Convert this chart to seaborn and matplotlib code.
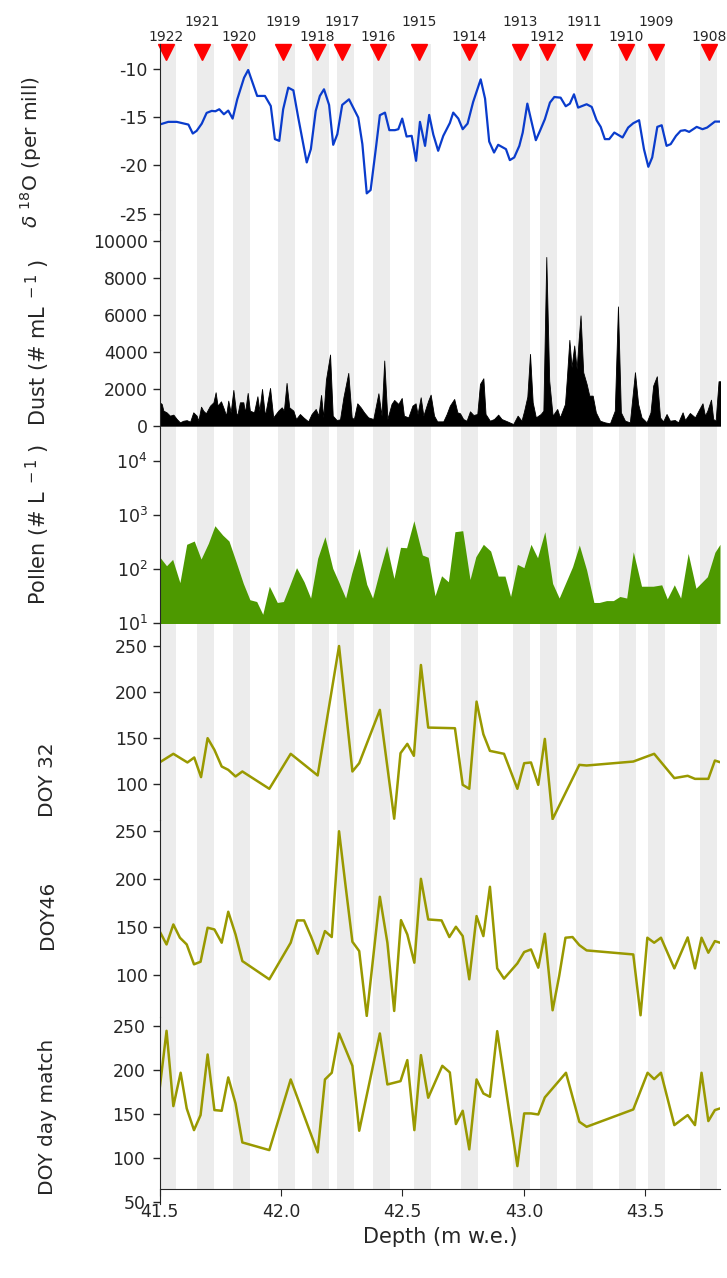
import numpy as np
import matplotlib
matplotlib.use("Agg")
import matplotlib.pyplot as plt
from matplotlib.ticker import NullLocator
import seaborn as sns

# ---- data (depth in m w.e.) ----
years = [1922, 1921, 1920, 1919, 1918, 1917, 1916, 1915, 1914, 1913, 1912, 1911, 1910, 1909, 1908]
year_depth = [41.527, 41.675, 41.827, 42.008, 42.148, 42.251, 42.399, 42.568, 42.774,
              42.984, 43.095, 43.248, 43.420, 43.543, 43.761]
band_start = [41.499, 41.654, 41.802, 41.988, 42.128, 42.230, 42.379, 42.547, 42.741,
              42.955, 43.066, 43.214, 43.391, 43.510, 43.724]
band_width = 0.07

d18o_depth = [41.500, 41.536, 41.571, 41.619, 41.637, 41.653, 41.674, 41.694, 41.715, 41.730,
              41.746, 41.765, 41.783, 41.801, 41.820, 41.848, 41.865, 41.902, 41.934, 41.958,
              41.975, 41.993, 42.009, 42.030, 42.051, 42.071, 42.106, 42.123, 42.143, 42.160,
              42.177, 42.198, 42.215, 42.232, 42.252, 42.280, 42.318, 42.335, 42.353, 42.369,
              42.391, 42.407, 42.428, 42.446, 42.469, 42.483, 42.499, 42.517, 42.538, 42.556,
              42.572, 42.593, 42.610, 42.627, 42.647, 42.668, 42.695, 42.709, 42.730, 42.748,
              42.768, 42.791, 42.822, 42.840, 42.857, 42.877, 42.894, 42.926, 42.942, 42.960,
              42.981, 42.995, 43.014, 43.032, 43.049, 43.066, 43.086, 43.107, 43.125, 43.151,
              43.172, 43.189, 43.206, 43.223, 43.258, 43.279, 43.299, 43.316, 43.333, 43.351,
              43.372, 43.406, 43.429, 43.450, 43.474, 43.494, 43.512, 43.528, 43.549, 43.567,
              43.587, 43.604, 43.626, 43.645, 43.663, 43.680, 43.711, 43.735, 43.754, 43.786,
              43.807]
d18o = [-15.76, -15.48, -15.48, -15.76, -16.69, -16.41, -15.66, -14.55, -14.34, -14.38,
        -14.17, -14.69, -14.31, -15.14, -13.14, -10.90, -10.10, -12.79, -12.79, -13.83,
        -17.27, -17.45, -14.17, -11.93, -12.21, -15.03, -19.69, -18.31, -14.34, -12.79,
        -12.10, -13.72, -17.86, -16.76, -13.72, -13.14, -15.03, -17.79, -22.90, -22.55,
        -18.14, -14.79, -14.52, -16.34, -16.34, -16.24, -15.14, -17.00, -16.93, -19.52,
        -15.48, -17.97, -14.76, -16.80, -18.48, -16.93, -15.60, -14.52, -15.14, -16.24,
        -15.66, -13.41, -11.07, -13.07, -17.52, -18.66, -17.86, -18.31, -19.45, -19.17,
        -17.97, -16.59, -13.59, -15.55, -17.38, -16.41, -15.21, -13.48, -12.90, -12.97,
        -13.86, -13.59, -12.62, -14.00, -13.65, -13.93, -15.31, -16.00, -17.27, -17.27,
        -16.59, -17.10, -16.07, -15.62, -15.31, -18.31, -20.14, -19.17, -16.00, -15.83,
        -17.97, -17.79, -16.93, -16.41, -16.34, -16.52, -16.00, -16.24, -16.07, -15.45,
        -15.45]

dust_depth = [41.500, 41.509, 41.516, 41.529, 41.543, 41.557, 41.571, 41.584, 41.598, 41.612,
              41.626, 41.639, 41.653, 41.660, 41.671, 41.680, 41.691, 41.708, 41.722, 41.731,
              41.739, 41.753, 41.765, 41.774, 41.783, 41.793, 41.804, 41.815, 41.820, 41.831,
              41.845, 41.852, 41.863, 41.872, 41.889, 41.903, 41.911, 41.922, 41.934, 41.955,
              41.968, 41.989, 42.003, 42.012, 42.023, 42.034, 42.051, 42.062, 42.078, 42.092,
              42.112, 42.126, 42.143, 42.154, 42.165, 42.174, 42.185, 42.202, 42.213, 42.229,
              42.243, 42.257, 42.277, 42.291, 42.300, 42.314, 42.328, 42.342, 42.359, 42.380,
              42.401, 42.414, 42.425, 42.438, 42.455, 42.466, 42.483, 42.497, 42.506, 42.524,
              42.541, 42.554, 42.562, 42.575, 42.586, 42.606, 42.616, 42.630, 42.643, 42.668,
              42.682, 42.695, 42.713, 42.726, 42.737, 42.750, 42.764, 42.778, 42.792, 42.808,
              42.819, 42.833, 42.842, 42.860, 42.877, 42.894, 42.908, 42.931, 42.956, 42.974,
              42.990, 43.001, 43.014, 43.025, 43.036, 43.049, 43.069, 43.080, 43.092, 43.104,
              43.118, 43.137, 43.148, 43.169, 43.176, 43.187, 43.196, 43.207, 43.217, 43.225,
              43.233, 43.244, 43.258, 43.269, 43.283, 43.296, 43.313, 43.333, 43.354, 43.374,
              43.387, 43.399, 43.416, 43.436, 43.457, 43.470, 43.484, 43.505, 43.521, 43.532,
              43.547, 43.560, 43.573, 43.587, 43.601, 43.621, 43.635, 43.653, 43.663, 43.683,
              43.704, 43.722, 43.735, 43.745, 43.755, 43.770, 43.779, 43.789, 43.801, 43.811]
dust = [1267, 1180, 815, 724, 543, 600, 362, 181, 270, 300,
        217, 724, 540, 270, 1030, 815, 670, 1086, 1267, 1810,
        1086, 1321, 905, 543, 1357, 724, 1937, 724, 543, 1267,
        1267, 724, 1774, 815, 724, 1593, 815, 1991, 543, 2045,
        452, 815, 995, 815, 2317, 995, 815, 362, 633, 452,
        235, 633, 905, 543, 1665, 452, 2480, 3855, 543, 308,
        344, 1539, 2860, 452, 362, 1213, 995, 724, 452, 362,
        1756, 543, 3530, 362, 1177, 1394, 1177, 1502, 543, 452,
        1086, 1213, 633, 1539, 543, 1357, 1683, 543, 235, 235,
        633, 1086, 1448, 724, 670, 362, 270, 778, 579, 633,
        2262, 2570, 633, 270, 362, 600, 362, 235, 90, 543,
        270, 815, 1575, 3890, 1267, 452, 633, 815, 9140, 2443,
        543, 905, 452, 1177, 2443, 4650, 3167, 4344, 3077, 4615,
        5973, 2896, 2262, 1629, 1629, 724, 270, 181, 127, 815,
        6460, 724, 270, 181, 2896, 1177, 452, 181, 724, 2172,
        2679, 452, 235, 633, 270, 308, 181, 724, 308, 688,
        452, 905, 1213, 543, 815, 1412, 362, 270, 2407, 2407]

pollen_depth = [41.500, 41.529, 41.554, 41.584, 41.612, 41.643, 41.671, 41.701, 41.728, 41.760,
                41.786, 41.815, 41.845, 41.872, 41.900, 41.925, 41.952, 41.985, 42.010, 42.037,
                42.064, 42.095, 42.122, 42.151, 42.181, 42.213, 42.239, 42.266, 42.291, 42.321,
                42.353, 42.377, 42.407, 42.435, 42.465, 42.492, 42.517, 42.547, 42.582, 42.606,
                42.634, 42.661, 42.689, 42.716, 42.748, 42.778, 42.802, 42.833, 42.863, 42.894,
                42.922, 42.945, 42.973, 43.000, 43.029, 43.056, 43.086, 43.118, 43.145, 43.200,
                43.228, 43.258, 43.288, 43.310, 43.340, 43.368, 43.395, 43.423, 43.450, 43.484,
                43.532, 43.567, 43.590, 43.619, 43.645, 43.676, 43.708, 43.755, 43.786, 43.807]
pollen = [169, 115, 151, 56, 287, 330, 153, 299, 634, 426,
          330, 137, 54, 27, 25, 14.5, 48, 24, 25, 51,
          106, 58, 29, 158, 397, 103, 56, 29, 83, 242,
          52, 29, 96, 270, 67, 252, 248, 785, 182, 165,
          32, 75, 58, 491, 513, 64, 169, 287, 215, 74,
          74, 31, 122, 106, 287, 162, 491, 54, 29, 110,
          278, 96, 24, 24, 26, 26, 31, 29, 209, 48,
          48, 51, 28, 51, 29, 195, 44, 72, 204, 287]

doy32_depth = [41.500, 41.557, 41.615, 41.643, 41.671, 41.698, 41.726, 41.756, 41.783, 41.813,
               41.841, 41.952, 42.040, 42.151, 42.239, 42.294, 42.322, 42.407, 42.466, 42.492,
               42.520, 42.547, 42.576, 42.606, 42.716, 42.748, 42.775, 42.805, 42.833, 42.860,
               42.918, 42.973, 43.001, 43.029, 43.059, 43.086, 43.118, 43.228, 43.258, 43.450,
               43.536, 43.619, 43.674, 43.704, 43.759, 43.786, 43.807]
doy32 = [123.5, 132.9, 123.5, 128.9, 107.6, 149.9, 137.2, 119.1, 115.5, 108.3,
         113.7, 94.9, 132.9, 109.4, 250, 113.7, 122.7, 180.6, 62.4, 133.6,
         143.7, 130.7, 229.4, 161.4, 160.7, 99.2, 94.9, 189.6, 154.2, 136.1,
         132.9, 94.9, 122.7, 123.5, 99.2, 149.1, 62, 120.9, 120.2, 124.5,
         132.9, 106.5, 109, 105.7, 105.7, 125.6, 123.8]

doy46_depth = [41.500, 41.529, 41.557, 41.584, 41.612, 41.642, 41.669, 41.698, 41.726, 41.756,
               41.783, 41.813, 41.841, 41.952, 42.040, 42.067, 42.095, 42.124, 42.151, 42.181,
               42.209, 42.239, 42.266, 42.294, 42.322, 42.353, 42.407, 42.438, 42.466, 42.494,
               42.520, 42.549, 42.576, 42.606, 42.661, 42.693, 42.720, 42.748, 42.775, 42.805,
               42.833, 42.860, 42.890, 42.918, 42.973, 43.001, 43.029, 43.059, 43.086, 43.118,
               43.145, 43.171, 43.200, 43.228, 43.258, 43.450, 43.480, 43.508, 43.536, 43.564,
               43.619, 43.674, 43.704, 43.731, 43.759, 43.786, 43.807]
doy46 = [145.4, 131.5, 152.3, 138.5, 131.5, 110.8, 113.5, 148.9, 147.1, 133.3,
         165.5, 141.9, 114.2, 95.2, 133.3, 156.5, 156.5, 139.5, 121.8, 145.4,
         139.2, 249.3, 192.2, 134.3, 124.6, 57.1, 181.1, 133.3, 62.3, 156.8,
         141.9, 112.5, 199.8, 157.5, 156.5, 139.2, 149.9, 140.2, 95.2, 161,
         140.2, 191.5, 106.6, 95.9, 111.8, 123.6, 126.3, 107.3, 142.6, 63,
         98.6, 138.5, 139.2, 130.8, 125.3, 121.1, 57.8, 138.5, 133.3, 138.5,
         106.6, 138.8, 106.6, 138.5, 122.9, 135, 133.3]

match_depth = [41.500, 41.529, 41.557, 41.587, 41.612, 41.642, 41.669, 41.698, 41.726, 41.756,
               41.783, 41.813, 41.841, 41.952, 42.040, 42.151, 42.181, 42.209, 42.239, 42.294,
               42.322, 42.407, 42.438, 42.492, 42.520, 42.549, 42.576, 42.606, 42.664, 42.695,
               42.720, 42.748, 42.775, 42.805, 42.833, 42.860, 42.890, 42.973, 43.001, 43.029,
               43.059, 43.086, 43.173, 43.228, 43.258, 43.450, 43.509, 43.536, 43.564, 43.619,
               43.674, 43.704, 43.731, 43.759, 43.786, 43.807]
doy_match = [176.9, 244.3, 158.7, 196.6, 156.1, 131.4, 148.5, 217.4, 154.2, 153.4,
             191.3, 161.7, 117.4, 108.7, 189, 106.1, 189, 196.6, 241.3, 204.5,
             130.7, 241.3, 183.3, 187.1, 211, 131.4, 216.7, 168.2, 204.5, 197,
             138.3, 153.4, 109.5, 189, 173.1, 169.3, 243.9, 90.5, 150.4, 150.4,
             149.2, 168.6, 196.6, 140.9, 135.2, 154.9, 196.6, 189.4, 196.6, 137.1,
             148.5, 137.1, 196.6, 141.7, 154.2, 156.1]

# ---- figure ----
sns.set_style("ticks")
plt.rcParams['font.family'] = ['DejaVu Sans']
plt.rcParams['axes.unicode_minus'] = False

W, H = 727, 1278
X0, X1 = 41.5, 43.807
fig = plt.figure(figsize=(W / 100, H / 100), dpi=100)


def box(top, bottom):
    # pixel rows -> figure fraction
    return [159.5 / W, 1 - bottom / H, 560.5 / W, (bottom - top) / H]


# grey year bands behind everything
bg = fig.add_axes(box(44, 1189), zorder=0)
bg.set_xlim(X0, X1)
bg.axis("off")
for s in band_start:
    bg.axvspan(s, s + band_width, color="#ececec", lw=0)

rows = [(44, 230), (230, 428), (428, 623), (623, 820), (820, 1017), (1017, 1203.5)]
axes = []
for top, bottom in rows:
    ax = fig.add_axes(box(top, bottom), zorder=1)
    ax.patch.set_alpha(0)
    ax.set_xlim(X0, X1)
    for sp in ["top", "right", "bottom"]:
        ax.spines[sp].set_visible(False)
    ax.tick_params(axis="x", bottom=False, labelbottom=False)
    ax.tick_params(axis="y", direction="out", length=5, width=1, labelsize=12.5)
    axes.append(ax)
ax1, ax2, ax3, ax4, ax5, ax6 = axes

olive = "#999900"
lab_fs = 14.5

# d18O
sns.lineplot(x=d18o_depth, y=d18o, ax=ax1, color="#0a3ccc", lw=1.6, estimator=None, sort=False)
ax1.set_ylim(-26.7, -7.4)
ax1.set_yticks([-10, -15, -20, -25])
ax1.set_ylabel(r"$\delta$ $^{18}$O (per mill)", fontsize=lab_fs)
ax1.yaxis.set_label_coords(-0.206, 0.42)

# triangles + years
tri_t = ax1.get_xaxis_transform()
ax1.plot(year_depth, [0.957] * len(year_depth), "v", color="red", ms=12,
         transform=tri_t, clip_on=False)
for i, (yr, d) in enumerate(zip(years, year_depth)):
    ax1.text(d, 1.038 if i % 2 == 0 else 1.118, str(yr), transform=tri_t,
             ha="center", va="center", fontsize=10)

# dust
ax2.fill_between(dust_depth, dust, 0, color="black", lw=0.6)
ax2.set_ylim(-125, 10600)
ax2.set_yticks(range(0, 10001, 2000))
ax2.set_ylabel(r"Dust (# mL$^{\ -1}$ )", fontsize=lab_fs + 0.5)
ax2.yaxis.set_label_coords(-0.192, 0.434)

# pollen
ax3.fill_between(pollen_depth, pollen, 1, color="#4d9900", lw=0)
ax3.set_yscale("log")
ax3.set_ylim(10, 41000)
ax3.set_yticks([10, 100, 1000, 10000])
ax3.yaxis.set_minor_locator(NullLocator())
ax3.set_ylabel(r"Pollen (# L$^{\ -1}$ )", fontsize=lab_fs + 0.5)
ax3.yaxis.set_label_coords(-0.192, 0.505)

# DOY series
sns.lineplot(x=doy32_depth, y=doy32, ax=ax4, color=olive, lw=1.8, estimator=None, sort=False)
ax4.set_ylim(61, 275)
ax4.set_yticks([100, 150, 200, 250])
ax4.set_ylabel("DOY 32", fontsize=lab_fs)
ax4.yaxis.set_label_coords(-0.182, 0.203)

sns.lineplot(x=doy46_depth, y=doy46, ax=ax5, color=olive, lw=1.8, estimator=None, sort=False)
ax5.set_ylim(56, 261)
ax5.set_yticks([100, 150, 200, 250])
ax5.set_ylabel("DOY46", fontsize=lab_fs)
ax5.yaxis.set_label_coords(-0.182, 0.518)

sns.lineplot(x=match_depth, y=doy_match, ax=ax6, color=olive, lw=1.8, estimator=None, sort=False)
ax6.set_ylim(48, 260)
ax6.set_yticks([50, 100, 150, 200, 250])
ax6.set_ylabel("DOY day match", fontsize=lab_fs)
ax6.yaxis.set_label_coords(-0.182, 0.464)
ax6.tick_params(axis="y", pad=5)
ax6.spines["bottom"].set_visible(True)
ax6.spines["bottom"].set_position(("data", 64.5))
ax6.tick_params(axis="x", bottom=True, labelbottom=True, direction="out", length=5,
                labelsize=12.5, pad=5)
ax6.set_xticks([41.5, 42.0, 42.5, 43.0, 43.5])
ax6.set_xticklabels(["41.5", "42.0", "42.5", "43.0", "43.5"])
ax6.set_xlabel("")
fig.text(440 / W, 1 - 1237 / H, "Depth (m w.e.)", ha="center", va="center", fontsize=15)

fig.savefig("out.png", dpi=100)
